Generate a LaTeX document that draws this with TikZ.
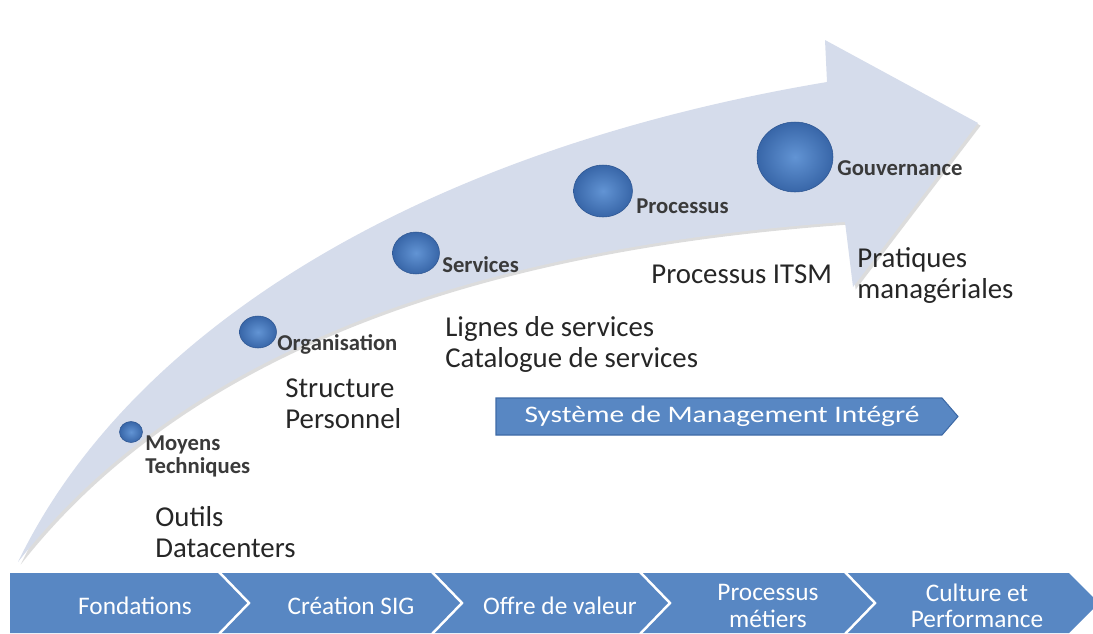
\documentclass[tikz,border=0pt]{standalone}
\usepackage{fontspec}
\setmainfont{Carlito}
\newfontfamily\widefont{Carlito}[FakeStretch=1.24]
\usetikzlibrary{shapes.geometric}

\definecolor{bandfill}{RGB}{213,220,235}
\definecolor{chevblue}{RGB}{88,135,195}
\definecolor{barrim}{RGB}{62,106,166}
\definecolor{ballhi}{RGB}{98,148,212}
\definecolor{balldk}{RGB}{56,102,168}
\definecolor{ballrim}{RGB}{45,85,145}
\definecolor{txtdark}{RGB}{38,38,38}
\definecolor{lbldark}{RGB}{58,58,58}

\tikzset{
  ball/.style={ellipse,inner sep=0pt,shade,inner color=ballhi,outer color=balldk,draw=ballrim,line width=.3pt},
  steplabel/.style={anchor=base west,inner sep=0pt,align=left,text=lbldark,font=\bfseries\fontsize{12.9pt}{13pt}\selectfont},
  detail/.style={anchor=base west,inner sep=0pt,align=left,text=txtdark,font=\fontsize{16.4pt}{17.6pt}\selectfont},
  chevtext/.style={align=center,text=white,inner sep=0pt,font=\fontsize{14.4pt}{15pt}\selectfont},
}

\begin{document}
\begin{tikzpicture}[x=0.02cm,y=-0.02cm]
  \path[use as bounding box,clip] (0,0) rectangle (1093,633);

  % big curved arrow
  \fill[bandfill,preaction={fill=black!30,opacity=.45,transform canvas={shift={(1.5pt,-1.5pt)}}}]
    (18,562) .. controls (130,330) and (420,150) .. (827,82) -- (825,40) -- (978,123)
    -- (853,287) -- (845,222) .. controls (520,245) and (200,330) .. cycle;

  % steps along the arrow
  \node[ball,minimum width=23*0.02cm,minimum height=21*0.02cm] (moyens) at (131,432) {};
  \node[ball,minimum width=37*0.02cm,minimum height=32*0.02cm] (orga) at (258,332) {};
  \node[ball,minimum width=47*0.02cm,minimum height=42*0.02cm] (serv) at (416,253) {};
  \node[ball,minimum width=59*0.02cm,minimum height=52*0.02cm] (proc) at (603,191) {};
  \node[ball,minimum width=76*0.02cm,minimum height=70*0.02cm] (gouv) at (795,157) {};

  % multi-line nodes sit on the baseline of their last line
  \node[steplabel] (moyenslbl) at (145,473) {Moyens\\Techniques};
  \node[steplabel] (orgalbl) at (277,350) {Organisation};
  \node[steplabel] (servlbl) at (442,272) {Services};
  \node[steplabel] (proclbl) at (636,213) {Processus};
  \node[steplabel] (gouvlbl) at (837,175) {Gouvernance};

  \node[detail] (outils) at (155,557) {Outils\\Datacenters};
  \node[detail] (struct) at (285,428) {Structure\\Personnel};
  \node[detail] (lignes) at (445,367) {Lignes de services\\Catalogue de services};
  \node[detail] (itsm) at (651,283) {Processus ITSM};
  \node[detail] (pratiq) at (857,298) {Pratiques\\managériales};

  % integrated management bar
  \fill[chevblue,draw=barrim,line width=.6pt]
    (496,398) -- (942,398) -- (958,416.5) -- (942,435) -- (496,435) -- cycle;
  \node[text=white,inner sep=0pt,font=\widefont\fontsize{13.5pt}{15pt}\selectfont] (smi) at (722,416.5) {Système de Management Intégré};

  % phases
  \fill[chevblue] (10,573) -- (1069,573) -- (1099,603) -- (1069,633) -- (10,633) -- cycle;
  \foreach \s in {219,432,640,845}
    \draw[white,line width=1.4pt] (\s,572) -- ({\s+30},603) -- (\s,634);

  \node[chevtext] (fond) at (135,606) {Fondations};
  \node[chevtext] (creat) at (351,606) {Création SIG};
  \node[chevtext] (offre) at (560,606) {Offre de valeur};
  \node[chevtext] (metier) at (768,606) {Processus\\métiers};
  \node[chevtext] (cult) at (977,606) {Culture et\\Performance};
\end{tikzpicture}
\end{document}
